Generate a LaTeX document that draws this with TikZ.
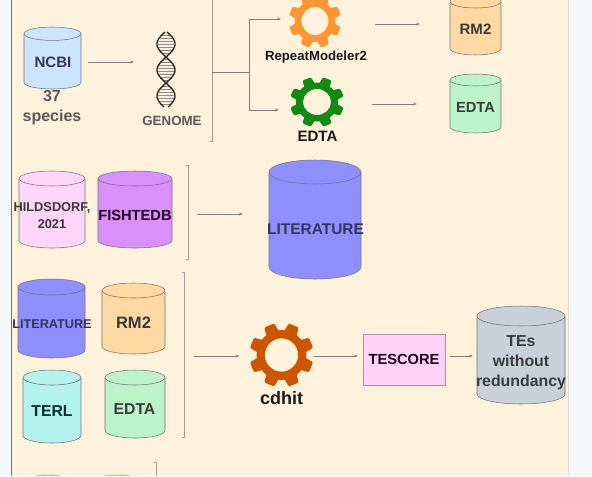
\documentclass[tikz,border=0pt]{standalone}
\usepackage{fontspec}
\setmainfont{Liberation Sans}
\usetikzlibrary{arrows.meta}
\definecolor{paper}{HTML}{FFF2DC}
\definecolor{margin}{HTML}{F6F7FA}
\definecolor{cblue}{HTML}{CCE5FF}
\definecolor{cpink}{HTML}{FFD6FB}
\definecolor{cviolet}{HTML}{D98FFC}
\definecolor{cindigo}{HTML}{8F8FFF}
\definecolor{capricot}{HTML}{FFD8A3}
\definecolor{cmint}{HTML}{BDF3C8}
\definecolor{caqua}{HTML}{B4F2EE}
\definecolor{cslate}{HTML}{C9D0DA}
\definecolor{cbox}{HTML}{FFD2F8}
\definecolor{gorange}{HTML}{FB9633}
\definecolor{ggreen}{HTML}{0F8A12}
\definecolor{grust}{HTML}{CC5500}
\definecolor{ink}{HTML}{3A3A3A}
\definecolor{inkblue}{HTML}{34345E}
\tikzset{
  cylline/.style={draw=black!55, line width=0.4pt},
  anchorbox/.style={inner sep=0pt, outer sep=0pt},
  lbl/.style={font=\bfseries\fontsize{#1}{#1}\selectfont, text=ink, inner sep=0pt, align=center},
  conn/.style={draw=black!50, line width=0.4pt, -{Stealth[length=3pt,width=2.2pt]}},
  brace/.style={draw=black!35!paper, line width=0.6pt},
  gapa/.style={shorten <=#1*0.75pt},
  gapb/.style={shorten >=#1*0.75pt},
}
% name, x1, y1, x2, y2, ry, colour
\newcommand{\cyl}[7]{%
  \pgfmathsetmacro{\xc}{(#2+#4)/2}\pgfmathsetmacro{\rx}{(#4-#2)/2}%
  \pgfmathsetmacro{\kx}{0.5523*\rx}\pgfmathsetmacro{\ky}{0.5523*#6}%
  \pgfmathsetmacro{\ya}{#3+#6}\pgfmathsetmacro{\yb}{#5-#6}%
  \pgfmathsetmacro{\yc}{\yb+\ky}%
  \pgfmathsetmacro{\xl}{\xc-\kx}\pgfmathsetmacro{\xr}{\xc+\kx}%
  \draw[cylline, fill=#7] (#2,\ya) -- (#2,\yb) .. controls (#2,\yc) and (\xl,#5) .. (\xc,#5)
     .. controls (\xr,#5) and (#4,\yc) .. (#4,\yb) -- (#4,\ya);
  \draw[cylline, fill=#7] (\xc,\ya) ellipse [x radius=\rx, y radius=#6];
  \pgfmathsetmacro{\boxw}{(#4-#2)*0.75}\pgfmathsetmacro{\boxh}{(#5-#3)*0.75}%
  \node[anchorbox, minimum width=\boxw pt, minimum height=\boxh pt] (#1) at (\xc,{(#3+#5)/2}) {};%
}
% name, cx, cy, rx, ry, colour
\newcommand{\gearwheel}[6]{%
  \begin{scope}[shift={(#2,#3)}, xscale=#4, yscale=#5]
    \fill[#6, even odd rule] (0,0) circle [radius=0.78] (0,0) circle [radius=0.52];
    \foreach \a in {22.5,67.5,...,337.5}
      \fill[#6, rotate=\a, rounded corners=1pt] (-0.22,0.62) -- (-0.17,1) -- (0.17,1) -- (0.22,0.62) -- cycle;
  \end{scope}
  \pgfmathsetmacro{\boxw}{2*#4*0.75}\pgfmathsetmacro{\boxh}{2*#5*0.75}%
  \node[anchorbox, minimum width=\boxw pt, minimum height=\boxh pt] (#1) at (#2,#3) {};%
}
\begin{document}
\begin{tikzpicture}[x=0.75pt,y=-0.75pt]
\useasboundingbox (0,0) rectangle (592,476);
\clip (0,0) rectangle (592,476);
\fill[margin] (0,0) rectangle (592,476);
\fill[paper] (11,0) rectangle (568,476);
\draw[black!55, line width=0.7pt] (11,0) -- (11,476);
\draw[black!12, line width=0.5pt] (568,0) -- (568,476);

% first row
\cyl{ncbi}{24}{27}{81}{89}{6.7}{cblue}
\node[lbl=11.3, text=inkblue] (lncbi) at (53,62) {NCBI};
\node[lbl=12, text=black!65] (species) at (52,108) {37\\[3pt]species};

\foreach \y in {35,38,...,105}{
  \pgfmathsetmacro{\w}{abs(8*cos(180*(\y-70)/26))}
  \draw[black!45, line width=0.45pt] ({166-\w},\y) -- ({166+\w},\y);
}
\draw[black!85, line width=1pt] plot[domain=32:107, samples=70, smooth] ({166+9*cos(180*(\x-70)/26)},\x);
\draw[black!85, line width=1pt] plot[domain=32:107, samples=70, smooth] ({166-9*cos(180*(\x-70)/26)},\x);
\node[anchorbox, minimum width=15pt, minimum height=57pt] (dna) at (166,69.5) {};
\node[lbl=10, text=black!65] (genome) at (172,120.5) {GENOME};

\coordinate (b1t) at (212,0);
\coordinate (b1m) at (212,72);
\coordinate (b1b) at (212,141);
\coordinate (j1) at (249,72);
\draw[brace] (b1t) -- (b1b) -- ++(-2,0);
\draw[black!50, line width=0.5pt] (b1m) -- (j1);

\gearwheel{rmg}{315}{21}{26}{27}{gorange}
\node[lbl=9.9, text=black!90] (lrmg) at (316,57) {RepeatModeler2};
\gearwheel{edg}{317}{102}{27}{25}{ggreen}
\node[lbl=11.3, text=black!90] (ledg) at (317.5,136) {EDTA};

\cyl{rma}{450}{-5}{501}{55}{6.5}{capricot}
\node[lbl=11.3] (lrma) at (475.5,29.5) {RM2};
\cyl{eda}{450}{74}{501}{133}{6}{cmint}
\node[lbl=11] (leda) at (475.5,107.5) {EDTA};

\draw[conn, gapa=7, gapb=22] (ncbi.east |- lncbi) -- (dna.west |- lncbi);
\draw[conn, gapb=8] (j1) |- ([yshift=1.5pt]rmg.west);
\draw[conn, gapb=11] (j1) |- ([yshift=-6pt]edg.west);
\draw[conn, gapa=34, gapb=30] ([yshift=-2.25pt]rmg.east) -- ([yshift=-2.25pt]rmg.east -| rma.west);
\draw[conn, gapa=28, gapb=33] ([yshift=-1.5pt]edg.east) -- ([yshift=-1.5pt]edg.east -| eda.west);

% second row
\cyl{hil}{19}{171}{85}{248}{7.5}{cpink}
\node[lbl=9.6] (lhil) at (52,215.5) {HILDSDORF,\\[3pt]2021};
\cyl{fis}{98}{171}{172}{248}{7.5}{cviolet}
\node[lbl=11, text=black!70!violet] (lfis) at (135,215) {FISHTEDB};
\coordinate (b2t) at (188,165);
\coordinate (b2m) at (188,214);
\coordinate (b2b) at (188,259);
\draw[brace] (b2t) ++(-2,0) -- (b2t) -- (b2b) -- ++(-2,0);
\cyl{litb}{269}{160}{361}{279}{12}{cindigo}
\node[lbl=11.6, text=inkblue] (llitb) at (315.5,229) {LITERATURE};
\draw[conn, gapa=9, gapb=26] (b2m) -- (litb.west |- b2m);

% third row
\cyl{lits}{18}{279}{85}{358}{8}{cindigo}
\node[lbl=9.5, text=inkblue] (llits) at (52,324) {LITERATURE};
\cyl{rmb}{102}{283}{165}{354}{7.5}{capricot}
\node[lbl=12.4] (lrmb) at (133.5,323) {RM2};
\cyl{ter}{23}{370}{81}{443}{7.5}{caqua}
\node[lbl=11.8, text=black!65!teal] (lter) at (52,411) {TERL};
\cyl{edb}{105}{370}{165}{438}{7.5}{cmint}
\node[lbl=11.8] (ledb) at (134.5,409) {EDTA};
\coordinate (b3t) at (184,272);
\coordinate (b3m) at (184,356);
\coordinate (b3b) at (184,437);
\draw[brace] (b3t) ++(-2,0) -- (b3t) -- (b3b) -- ++(-2,0);

\gearwheel{cdg}{281.5}{355}{32}{32}{grust}
\node[lbl=13.5, text=black!90] (lcdg) at (281.5,398) {cdhit};
\node[draw=black!40, line width=0.5pt, fill=cbox, minimum width=61.5pt, minimum height=38.25pt, inner sep=0pt, font=\bfseries\fontsize{11}{11}\selectfont, text=black!75!violet] (tes) at (404,359.5) {TESCORE};
\cyl{ted}{477}{306}{565}{404}{10}{cslate}
\node[lbl=11.9] (lted) at (521,362.5) {TEs\\[3pt]without\\[3pt]redundancy};

\draw[conn, gapa=10, gapb=10] (b3m) -- ([yshift=-0.75pt]cdg.west);
\draw[conn, gapa=0, gapb=5] ([yshift=-0.75pt]cdg.east) -- ([yshift=-0.75pt]cdg.east -| tes.west);
\draw[conn, gapa=5, gapb=4] ([yshift=2.6pt]tes.east) -- ([yshift=2.6pt]tes.east -| ted.west);

% start of the next row, cut by the page edge
\coordinate (b4t) at (156,462);
\coordinate (b4b) at (156,476);
\draw[brace] (b4t) ++(-2,0) -- (b4t) -- (b4b);
\fill[black!22!paper] (35,476) .. controls (40,474) and (56,474) .. (61,476) -- cycle;
\fill[black!15!cmint] (103,476) .. controls (110,474) and (125,474) .. (132,476) -- cycle;
\end{tikzpicture}
\end{document}
